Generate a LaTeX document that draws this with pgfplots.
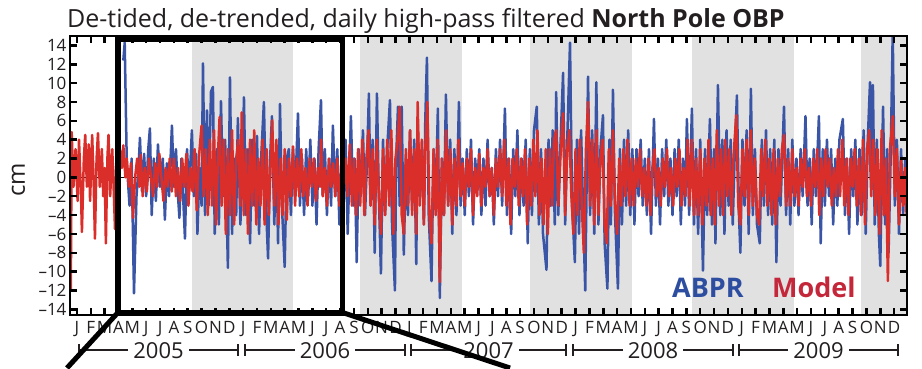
\documentclass[border=0pt]{standalone}
\usepackage{fontspec}
\setmainfont{Open Sans}
\usepackage{pgfplots}
\pgfplotsset{compat=1.18}
\definecolor{abpr}{HTML}{3A55A5}
\definecolor{model}{HTML}{DA2E2A}
\definecolor{modeltxt}{HTML}{C4263A}
\definecolor{abprtxt}{HTML}{2D4EA0}
\definecolor{wintergray}{HTML}{E1E1E1}
\definecolor{txt}{HTML}{231F20}
\begin{document}
\begin{tikzpicture}
\begin{axis}[
 width=837pt, height=279pt, scale only axis,
 xmin=-0.5, xmax=59.93, ymin=-14.6, ymax=15,
 axis line style={line width=2.8pt, black},
 tick align=inside, tick pos=both,
 major tick length=7pt,
 every tick/.append style={black, line width=2.5pt},
 xtick={0,...,59},
 xticklabels={J,F,M,A,M,J,J,A,S,O,N,D,J,F,M,A,M,J,J,A,S,O,N,D,J,F,M,A,M,J,J,A,S,O,N,D,J,F,M,A,M,J,J,A,S,O,N,D,J,F,M,A,M,J,J,A,S,O,N,D},
 ytick={-14,-12,...,14},
 yticklabels={–14,–12,–10,–8,–6,–4,–2,0,2,4,6,8,10,12,14},
 yticklabel style={font=\fontsize{17pt}{17pt}\selectfont, text=txt},
 xticklabel style={font=\fontsize{17pt}{17pt}\selectfont, text=txt, anchor=base, yshift=-18pt},
 axis on top,
]
\fill[wintergray] (axis cs:8.3,-15) rectangle (axis cs:15.6,16);
\fill[wintergray] (axis cs:20.43,-15) rectangle (axis cs:27.78,16);
\fill[wintergray] (axis cs:32.7,-15) rectangle (axis cs:40.07,16);
\fill[wintergray] (axis cs:44.4,-15) rectangle (axis cs:51.77,16);
\fill[wintergray] (axis cs:56.6,-15) rectangle (axis cs:61,16);
\draw[black, line width=0.7pt] (axis cs:-1,0) -- (axis cs:61,0);
% ABPR
\addplot[abpr, line width=2.5pt, line join=round] coordinates {
(3.35,12.4) (3.45,14.3) (3.6,1.5) (3.8,-3) (3.95,2) (4.12,-12.3) (4.3,-2) (4.45,1) (4.55,4.2) (4.7,-1.5) (4.85,2.5)
(5.0,-2) (5.15,3) (5.27,5.2) (5.4,-4) (5.55,2) (5.7,-2.5) (5.85,3.5) (6.0,-1) (6.2,2) (6.35,-4.5) (6.5,1.5) (6.65,-2) (6.86,5.5) (7.0,-1) (7.15,3) (7.3,-2) (7.4,-4.3) (7.55,2) (7.8,-6.5) (7.95,3) (8.1,-1.5) (8.3,5.0) (8.45,-2) (8.6,2.5) (8.7,-6) (8.85,1) (9.0,-3)
(9.1,12.1) (9.25,-4) (9.39,7.1) (9.5,-3) (9.68,9.1) (9.82,9.6) (9.95,-6) (10.1,3) (10.25,-5) (10.4,8.1) (10.55,-2) (10.7,4) (10.9,-9.6) (11.05,10.6) (11.2,-6) (11.35,2) (11.5,-4) (11.62,6.3) (11.8,-5) (11.95,1) (12.06,8.5) (12.2,-4) (12.35,3) (12.5,-7) (12.65,4) (12.8,-3) (13.0,4.4) (13.15,-6) (13.3,2) (13.5,8.0) (13.65,-3) (13.8,-8.6) (13.95,2) (14.08,6.5) (14.25,-5) (14.4,3) (14.52,-7) (14.66,7.8) (14.8,-3) (15.0,-9.5) (15.15,2) (15.3,3) (15.45,-4) (15.6,3) (15.75,-2) (15.96,6.8) (16.1,-3) (16.25,2) (16.4,-4) (16.55,3) (16.7,-2) (16.85,4) (17.0,-3) (17.15,2) (17.3,-5) (17.45,3) (17.62,8.2) (17.75,-2) (17.9,3) (18.05,-4) (18.2,2) (18.35,-3) (18.48,5.5) (18.65,-2) (18.8,3) (18.95,-5) (19.1,2) (19.25,-3) (19.4,4) (19.55,-6) (19.78,6.5) (19.95,-3) (20.05,2) (20.2,-9)
(20.35,3) (20.5,-2) (20.65,5) (20.8,-4) (20.95,2) (21.08,8.9) (21.2,-3) (21.35,4) (21.5,-8) (21.66,8.9) (21.8,-2) (21.95,-10.2) (22.1,4) (22.25,-4) (22.4,3) (22.6,8.2) (22.75,-5) (22.96,-12) (23.05,2) (23.18,7.5) (23.3,-3) (23.45,7.5) (23.6,-8.2) (23.75,2) (23.9,-4) (24.05,5) (24.2,-3) (24.35,4) (24.5,-9.2) (24.6,6) (24.75,-2) (24.9,3) (25.05,-5) (25.15,6) (25.27,12.7) (25.4,-4) (25.6,-11) (25.75,3) (25.9,-3) (26.06,7.3) (26.2,-12.8) (26.35,2) (26.5,-4) (26.64,8.8) (26.8,-3) (26.95,4) (27.1,-6) (27.25,3) (27.4,-4) (27.58,8) (27.7,-3) (27.85,2) (28.0,-4)
(28.15,3) (28.3,-2) (28.45,4) (28.6,-5) (28.75,2) (28.9,-1) (29.05,3) (29.2,-4) (29.35,2) (29.5,-3) (29.65,4) (29.8,-2) (29.95,1) (30.1,-5) (30.25,3) (30.4,-2) (30.55,4) (30.7,-3) (30.9,7.3) (31.05,-4) (31.2,2) (31.35,-6) (31.5,3) (31.65,-2) (31.8,5) (31.95,-4) (32.1,2) (32.25,-3) (32.4,4) (32.55,-7) (32.7,3) (32.85,-4) (33.0,5) (33.2,7.5) (33.35,-5) (33.5,3) (33.65,-6) (33.9,-9.8) (34.05,4) (34.2,-3) (34.35,5) (34.5,-5) (34.6,9.05) (34.75,-4) (34.9,3) (35.1,11.1) (35.25,-5) (35.4,4) (35.6,14.3) (35.75,-3) (35.95,-9) (36.1,4) (36.25,-6) (36.4,5) (36.55,-4) (36.7,-12) (36.9,10.7) (37.05,-4) (37.2,5) (37.35,-6) (37.5,10.1) (37.65,-5) (37.8,3) (37.98,6.6) (38.1,-7) (38.3,-11.8) (38.45,4) (38.55,-5) (38.7,9.3) (38.85,-4) (39.06,-11.8) (39.2,3) (39.35,-5) (39.5,4) (39.65,-3) (39.8,5) (39.95,-4) (40.1,3) (40.25,-5)
(40.4,3) (40.55,-2) (40.7,4) (40.85,-3) (41.0,2) (41.15,-4) (41.3,3) (41.45,-6) (41.66,6.2) (41.8,-3) (41.95,2) (42.1,-5) (42.25,3) (42.4,-2) (42.55,4) (42.7,-3) (42.85,2) (43.0,-4) (43.15,3) (43.3,-2) (43.45,4) (43.6,-5) (43.75,2) (43.9,-3) (44.04,6.2) (44.2,-4) (44.4,7.3) (44.55,-5) (44.7,3) (44.85,-6) (45.0,4) (45.2,-9.9) (45.35,3) (45.5,-4) (45.7,6.2) (45.85,-5) (46.0,3) (46.1,-7) (46.28,9.8) (46.45,-4) (46.6,4) (46.75,-6) (46.9,5) (47.05,-3) (47.2,4) (47.35,-5) (47.5,3) (47.65,8.7) (47.8,-4) (47.9,-8) (48.05,4) (48.2,-3) (48.35,5) (48.5,-6) (48.66,9.4) (48.8,-4) (48.95,3) (49.1,-5) (49.3,-7) (49.45,4) (49.6,-3) (49.75,5) (49.9,-4) (50.05,3) (50.2,-5) (50.35,4) (50.5,-9) (50.65,3) (50.8,-3) (51.05,7.5) (51.2,-4) (51.35,3) (51.5,-5) (51.65,4) (51.8,-3)
(51.95,2) (52.1,-4) (52.25,3) (52.4,-2) (52.6,6.5) (52.75,-3) (52.9,2) (53.05,-5) (53.2,3) (53.35,-2) (53.57,6.5) (53.7,-7) (53.85,3) (54.0,-3) (54.15,4) (54.3,-2) (54.45,3) (54.6,-5) (54.75,2) (54.9,-3) (55.05,4) (55.3,6.2) (55.45,-4) (55.6,2) (55.75,-6) (55.9,3) (56.05,-2) (56.2,4) (56.35,-5) (56.5,3) (56.65,-4) (56.8,5) (56.95,-6) (57.1,4) (57.26,10.1) (57.4,2) (57.47,9.8) (57.6,-5) (57.75,4) (57.9,-6) (58.0,-9.4) (58.2,7.5) (58.35,-5) (58.5,3) (58.6,-8) (58.75,2) (58.9,15.5) (59.05,-3) (59.2,4) (59.35,-6) (59.5,3) (59.65,-4) (59.8,2) (59.9,-3)
};
% Model
\addplot[model, line width=2.5pt, line join=round] coordinates {
(-0.5,-1) (-0.44,-12) (-0.38,4.8) (-0.25,-1) (-0.1,3) (0.05,-2.5) (0.15,4.0) (0.3,-2) (0.36,-5.8) (0.5,2) (0.6,4.5) (0.72,-1) (0.85,3.5) (0.95,-2.5) (1.1,4.5) (1.2,0) (1.3,-6.5) (1.42,2) (1.52,4.7) (1.65,-1) (1.8,3) (1.9,-2) (2.0,1) (2.09,-7) (2.2,2) (2.28,4.5) (2.4,-2) (2.55,3) (2.65,-1) (2.75,-5.5) (2.85,2) (3.0,0) (3.1,3) (3.25,1)
(3.35,3.4) (3.5,0) (3.6,2) (3.75,-1) (3.9,1.5) (4.05,-4.3) (4.2,0) (4.35,2) (4.5,-1) (4.6,2.4) (4.75,-2) (4.9,1) (5.05,-1.5) (5.2,2) (5.35,0) (5.5,-2) (5.65,1.5) (5.8,-1) (5.95,2.5) (6.1,0) (6.25,-2.5) (6.4,1) (6.55,-1) (6.7,2) (6.85,-1.5) (7.0,2) (7.15,-2) (7.3,1) (7.45,-2.5) (7.6,2) (7.75,-1) (7.9,2.5) (8.05,-3) (8.2,1) (8.35,-1.5) (8.5,3) (8.65,-3.5) (8.8,2) (9.0,5.5) (9.15,-2) (9.3,3) (9.45,-4) (9.6,4) (9.75,-3) (9.9,5) (10.05,-5) (10.2,3) (10.3,6.4) (10.45,-3) (10.6,4) (10.75,-6) (10.9,3) (11.05,-4) (11.2,5) (11.35,-5) (11.5,2) (11.65,4) (11.8,-3) (11.9,6.9) (12.05,-4) (12.2,3) (12.35,-6) (12.5,4) (12.65,-3) (12.8,5) (12.95,-5) (13.1,2) (13.25,-3) (13.4,4) (13.55,-5) (13.7,3) (13.85,-4) (14.0,2) (14.1,6.05) (14.25,-3) (14.4,4) (14.55,-5) (14.7,2) (14.85,-4) (15.0,3) (15.15,-4.5) (15.3,2) (15.45,-2) (15.6,3.3) (15.75,-3) (15.9,2) (16.05,-2) (16.2,3)
(16.35,-2) (16.5,1) (16.65,-3) (16.8,2) (16.95,-1) (17.1,2) (17.25,-2.5) (17.4,1) (17.55,-1) (17.62,4) (17.75,-2) (17.9,1) (18.05,-3) (18.2,2) (18.35,-1) (18.5,1.5) (18.65,-2) (18.8,2) (18.95,-3) (19.1,1) (19.25,-1.5) (19.4,2) (19.55,-2) (19.7,3.5) (19.85,-3) (20.0,2) (20.15,-4) (20.3,3) (20.45,-3) (20.6,4) (20.75,-4) (20.9,2) (21.05,5) (21.2,-3) (21.35,3) (21.5,-5) (21.65,4) (21.8,-2) (21.95,-6) (22.1,3) (22.25,-4) (22.4,4) (22.55,-3) (22.7,5) (22.85,-6) (23.0,2) (23.15,4) (23.3,7.5) (23.45,-4) (23.6,-6) (23.75,3) (23.9,-3) (24.05,5) (24.2,-4) (24.35,3) (24.5,-6) (24.6,8) (24.75,-3) (24.9,4) (25.05,-5) (25.15,3) (25.3,8) (25.45,-4) (25.6,-7) (25.75,3) (25.9,-4) (26.05,4) (26.2,-11.1) (26.35,2) (26.5,-4) (26.65,5) (26.8,-3) (26.95,3) (27.1,-5) (27.25,2) (27.4,-3) (27.55,4) (27.7,-2) (27.85,1.5)
(28.0,-3) (28.15,2) (28.3,-1) (28.45,3) (28.6,-4) (28.75,1) (28.9,-2) (29.05,2.5) (29.2,-3) (29.35,1) (29.5,-1) (29.65,3) (29.8,-2) (29.95,1) (30.1,-4) (30.25,2) (30.4,-1) (30.55,3) (30.7,-2) (30.85,4) (31.0,-3) (31.15,2) (31.3,-5) (31.45,2) (31.6,-1) (31.75,3) (31.9,-3) (32.05,2) (32.2,-2) (32.35,3) (32.5,-5) (32.65,2) (32.8,-3) (32.95,4) (33.1,-2) (33.25,5) (33.4,-4) (33.55,2) (33.7,-5) (33.85,3) (34.0,-6) (34.15,3) (34.3,-3) (34.45,4) (34.6,5) (34.75,-3) (34.9,2) (35.1,6.8) (35.25,-4) (35.4,3) (35.55,5) (35.7,-2) (35.85,-6) (36.0,3) (36.15,-4) (36.3,4) (36.45,-3) (36.6,-8) (36.75,3) (36.9,8) (37.05,-3) (37.2,4) (37.35,-5) (37.5,5) (37.65,-4) (37.8,2) (37.95,4) (38.1,-5) (38.25,-7) (38.4,3) (38.55,-3) (38.7,5) (38.85,-3) (39.0,-6) (39.15,2) (39.3,-3) (39.45,3) (39.6,-2) (39.75,4) (39.9,-3) (40.05,2)
(40.2,-3) (40.35,2) (40.5,-1) (40.65,3) (40.8,-2) (40.95,1) (41.1,-3) (41.25,2) (41.4,-4) (41.55,1) (41.7,3) (41.85,-2) (42.0,1) (42.15,-3) (42.3,2) (42.45,-1) (42.6,3) (42.75,-2) (42.9,1) (43.05,-3) (43.2,2) (43.35,-1) (43.5,3) (43.65,-3) (43.8,1) (43.95,-2) (44.1,4) (44.25,-3) (44.4,4) (44.55,-4) (44.7,2) (44.85,-4) (45.0,3) (45.15,-5) (45.3,2) (45.45,-3) (45.6,4) (45.75,-4) (45.9,2) (46.05,-5) (46.2,5) (46.35,-3) (46.5,3) (46.65,-4) (46.8,4) (46.95,-2) (47.1,3) (47.25,-4) (47.4,2) (47.6,6.6) (47.75,-3) (47.9,-5) (48.05,3) (48.2,-2) (48.35,4) (48.5,-4) (48.65,5) (48.8,-3) (48.95,2) (49.1,-4) (49.25,-5) (49.4,3) (49.55,-2) (49.7,4) (49.85,-3) (50.0,2) (50.15,-4) (50.3,3) (50.45,-5) (50.6,2) (50.75,-2) (50.9,3) (51.05,4.5) (51.2,-3) (51.35,2) (51.5,-3) (51.65,3) (51.8,-2)
(51.95,1) (52.1,-3) (52.25,2) (52.4,-1) (52.55,3) (52.7,-2) (52.85,1) (53.0,-3) (53.15,2) (53.3,-1) (53.45,3) (53.6,-4) (53.75,2) (53.9,-2) (54.05,3) (54.2,-1) (54.35,2) (54.5,-3) (54.65,1) (54.8,-2) (54.95,3) (55.1,-2) (55.25,4) (55.4,-3) (55.55,2) (55.7,-4) (55.85,2) (56.0,-1) (56.15,3) (56.3,-3) (56.45,2) (56.6,-4) (56.75,4) (56.9,-5) (57.05,3) (57.2,5) (57.35,-2) (57.5,4) (57.65,-4) (57.8,3) (57.95,-6) (58.1,5) (58.25,-4) (58.4,2) (58.55,-11) (58.7,3) (58.9,6.5) (59.05,-2) (59.2,3) (59.35,-5) (59.5,2) (59.65,-3) (59.8,1) (59.9,-4)
};
\end{axis}
% title and labels (picture coords: px-70, 315-py)
\node[anchor=base west, inner sep=0pt, text=txt, font=\fontsize{25pt}{25pt}\selectfont] at (-3pt,288pt) {De-tided, de-trended, daily high-pass filtered \textbf{North Pole OBP}};
\node[anchor=base, rotate=90, inner sep=0pt, text=txt, font=\fontsize{24pt}{24pt}\selectfont] at (-45pt,135pt) {cm};
\node[anchor=base west, inner sep=0pt, text=abprtxt, font=\fontsize{27pt}{27pt}\selectfont\bfseries] at (602pt,18pt) {ABPR};
\node[anchor=base west, inner sep=0pt, text=modeltxt, font=\fontsize{27pt}{27pt}\selectfont\bfseries] at (702pt,18pt) {Model};
% year brackets
\foreach \l/\r/\y in {9/168/2005, 175/335/2006, 341/496/2007, 503/663/2008, 669/828/2009}{
  \draw[txt, line width=1.3pt] (\l pt,-35pt) -- (\r pt,-35pt);
  \draw[txt, line width=2.5pt] (\l pt,-29pt) -- (\l pt,-41pt);
  \draw[txt, line width=2.5pt] (\r pt,-29pt) -- (\r pt,-41pt);
  \node[anchor=base, fill=white, inner xsep=5pt, inner ysep=1pt, text=txt, font=\fontsize{22pt}{22pt}\selectfont] at ({(\l+\r)/2*1pt},-43pt) {\y};
}
% zoom box
\draw[black, line width=5.5pt] (48pt,2.5pt) rectangle (272.5pt,276pt);
\draw[black, line width=5pt] (48pt,2.5pt) -- (-3pt,-53pt);
\draw[black, line width=5pt] (272.5pt,2.5pt) -- (440pt,-53pt);
\pgfresetboundingbox
\useasboundingbox (-70pt,-53pt) rectangle (852pt,315pt);
\end{tikzpicture}
\end{document}
